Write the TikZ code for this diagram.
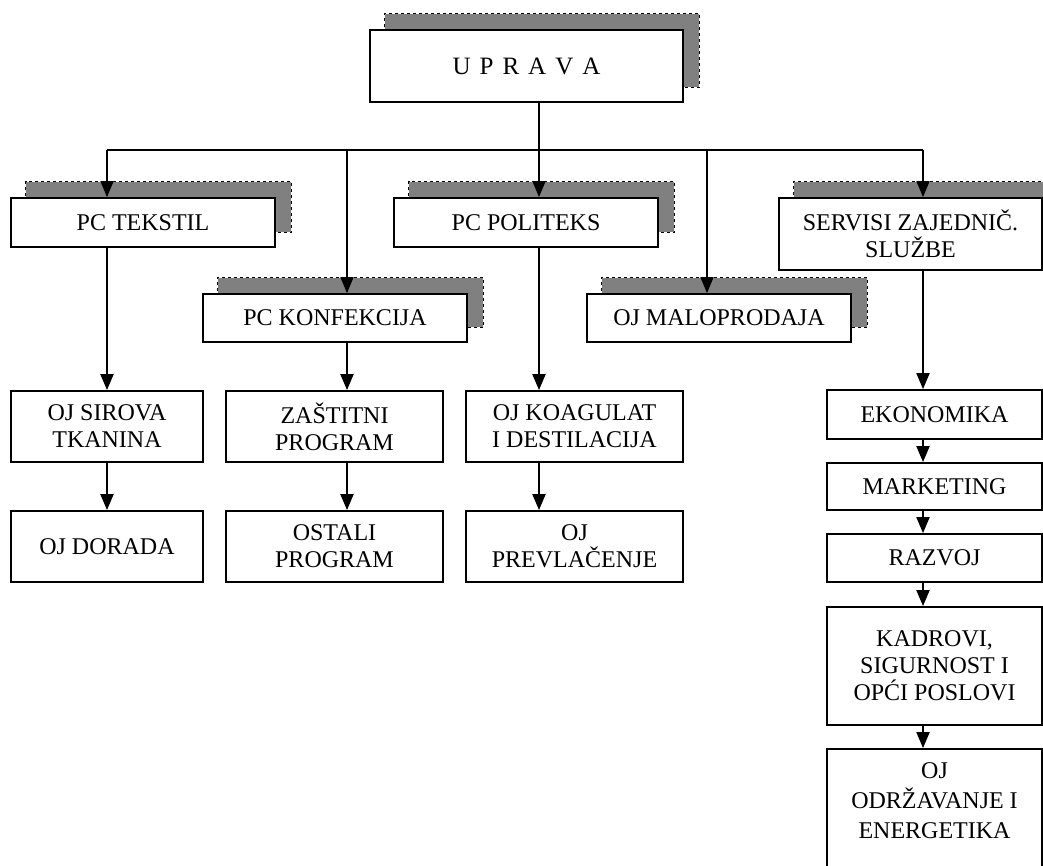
\documentclass[tikz,border=0pt]{standalone}
\usepackage{fontspec}
\setmainfont{Liberation Serif}
\usetikzlibrary{arrows.meta,backgrounds}
\definecolor{shadowgray}{RGB}{128,128,128}
\tikzset{
  box/.style={draw, line width=1.8pt, fill=white, inner sep=0pt, align=center,
    font=\fontsize{24}{27}\selectfont},
  shadowbox/.style={fill=shadowgray, draw=black, line width=0.9pt, dash pattern=on 3pt off 3pt},
  arr/.style={line width=2pt, -{Triangle[length=16pt,width=13pt]}},
  bus/.style={line width=1.4pt},
  busarr/.style={line width=1.4pt, -{Triangle[length=16pt,width=13pt]}},
}
\newcommand{\shadowof}[1]{%
  \begin{pgfonlayer}{background}
  \draw[shadowbox] ([xshift=15.5pt,yshift=15.5pt]#1.south west) rectangle ([xshift=15.5pt,yshift=15.5pt]#1.north east);
  \end{pgfonlayer}}
\begin{document}
\begin{tikzpicture}[x=1pt,y=-1pt]
\useasboundingbox (0,0) rectangle (1043,865);
% top
\node[box, minimum width=313pt, minimum height=72pt, font=\fontsize{25}{28}\selectfont] (uprava) at (526.5,66)
  {U\hspace{9pt}P\hspace{9pt}R\hspace{9pt}A\hspace{9pt}V\hspace{9pt}A};
\shadowof{uprava}
% second level
\node[box, minimum width=264pt, minimum height=49pt] (tekstil) at (143,222.5) {PC TEKSTIL};
\node[box, minimum width=264pt, minimum height=48pt] (konf) at (335,318) {PC KONFEKCIJA};
\node[box, minimum width=264pt, minimum height=49pt] (politeks) at (526,222.5) {PC POLITEKS};
\node[box, minimum width=264pt, minimum height=48pt] (malo) at (719,318) {OJ MALOPRODAJA};
\node[box, minimum width=263pt, minimum height=72pt] (servisi) at (910.5,234) {SERVISI ZAJEDNIČ.\\SLUŽBE};
\shadowof{tekstil}
\shadowof{konf}
\shadowof{politeks}
\shadowof{malo}
\shadowof{servisi}
% third level
\node[box, minimum width=192pt, minimum height=71pt] (sirova) at (107,426.5) {OJ SIROVA\\TKANINA};
\node[box, minimum width=192pt, minimum height=71pt] (dorada) at (107,546.5) {OJ DORADA};
\node[box, minimum width=217pt, minimum height=71pt] (zastitni) at (334.5,426.5) {ZAŠTITNI\\PROGRAM};
\node[box, minimum width=217pt, minimum height=71pt] (ostali) at (334.5,546.5) {OSTALI\\PROGRAM};
\node[box, minimum width=217pt, minimum height=71pt] (koag) at (574.5,426.5) {OJ KOAGULAT\\I DESTILACIJA};
\node[box, minimum width=217pt, minimum height=71pt] (prevl) at (574.5,546.5) {OJ\\PREVLAČENJE};
% right column
\node[box, minimum width=215pt, minimum height=49pt] (ekon) at (934.5,414.5) {EKONOMIKA};
\node[box, minimum width=215pt, minimum height=47pt] (market) at (934.5,486.5) {MARKETING};
\node[box, minimum width=215pt, minimum height=48pt] (razvoj) at (934.5,558) {RAZVOJ};
\node[box, minimum width=215pt, minimum height=118pt] (kadrovi) at (934.5,666) {KADROVI,\\SIGURNOST I\\OPĆI POSLOVI};
\node[box, minimum width=215pt, minimum height=135pt] (odrz) at (934.5,816.5) {};
\node[align=center, inner sep=0pt, font=\fontsize{24}{30}\selectfont] (odrzt) at (934.5,801) {OJ\\ODRŽAVANJE I\\ENERGETIKA};
% bus
\coordinate (c1) at (107,150);
\coordinate (c2) at (347,150);
\coordinate (c3) at (539,150);
\coordinate (c4) at (707,150);
\coordinate (c5) at (923,150);
\draw[bus] (c3 |- uprava.south) -- (c3);
\draw[bus] (c1) -- (c5);
\draw[busarr] (c1) -- (c1 |- tekstil.north);
\draw[busarr] (c2) -- (c2 |- konf.north);
\draw[busarr] (c3) -- (c3 |- politeks.north);
\draw[busarr] (c4) -- (c4 |- malo.north);
\draw[busarr] (c5) -- (c5 |- servisi.north);
% vertical chains
\draw[arr] (c1 |- tekstil.south) -- (c1 |- sirova.north);
\draw[arr] (c1 |- sirova.south) -- (c1 |- dorada.north);
\draw[arr] (c2 |- konf.south) -- (c2 |- zastitni.north);
\draw[arr] (c2 |- zastitni.south) -- (c2 |- ostali.north);
\draw[arr] (c3 |- politeks.south) -- (c3 |- koag.north);
\draw[arr] (c3 |- koag.south) -- (c3 |- prevl.north);
\draw[arr] (c5 |- servisi.south) -- (c5 |- ekon.north);
\draw[arr] (c5 |- ekon.south) -- (c5 |- market.north);
\draw[arr] (c5 |- market.south) -- (c5 |- razvoj.north);
\draw[arr] (c5 |- razvoj.south) -- (c5 |- kadrovi.north);
\draw[arr] (c5 |- kadrovi.south) -- (c5 |- odrz.north);
\end{tikzpicture}
\end{document}
